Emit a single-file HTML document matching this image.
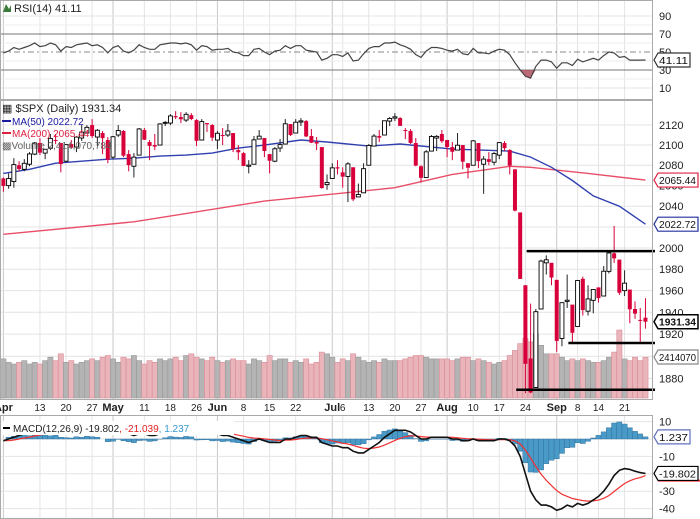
<!DOCTYPE html>
<html><head><meta charset="utf-8"><style>
html,body{margin:0;padding:0;background:#fff;}
svg{display:block;font-family:"Liberation Sans",Arial,sans-serif;}
</style></head><body>
<svg id="chart" width="700" height="519" viewBox="0 0 700 519" xmlns="http://www.w3.org/2000/svg">
<rect x="0" y="0" width="700" height="519" fill="#fff"/>
<g id="grid"></g>
<g id="volume"></g>
<g id="rsi"></g>
<g id="price"></g>
<g id="macd"></g>
<g id="axes"></g>
<g>
<path d="M3 12 L6 4 L9 9 L11 5 L11 12 Z" fill="#3a7a3a"/>
<text x="14" y="12" font-size="11" fill="#222">RSI(14) 41.11</text>
</g>
<g>
<text x="2" y="112" font-size="11" fill="#222">&#9638; $SPX (Daily) 1931.34</text>
<line x1="2" y1="121" x2="11" y2="121" stroke="#1a1aa0" stroke-width="2"/>
<text x="12" y="125" font-size="10" fill="#1a1aa0">MA(50) 2022.72</text>
<line x1="2" y1="133" x2="11" y2="133" stroke="#e02040" stroke-width="2"/>
<text x="12" y="137" font-size="10" fill="#e02040">MA(200) 2065.44</text>
<text x="2" y="149" font-size="10" fill="#666">&#9641;Volume 2,414,070,784</text>
</g>
<g>
<rect x="2" y="421" width="232" height="14" fill="#fff"/>
<line x1="3" y1="428" x2="10" y2="428" stroke="#000" stroke-width="2"/>
<text x="13" y="432" font-size="10" fill="#222">MACD(12,26,9) -19.802<tspan fill="#e02020">, -21.039</tspan><tspan fill="#3399cc">, 1.237</tspan></text>
</g>
</svg>
<script>
const dayLabels = [[0,"Apr",1],[7,"13",0],[12,"20",0],[17,"27",0],[21,"May",1],[27,"11",0],[32,"18",0],[37,"26",0],[41,"Jun",1],[46,"8",0],[51,"15",0],[56,"22",0],[63,"Jul",1],[65,"6",0],[70,"13",0],[75,"20",0],[80,"27",0],[85,"Aug",1],[90,"10",0],[95,"17",0],[100,"24",0],[106,"Sep",1],[110,"8",0],[114,"14",0],[119,"21",0]];
const openP = [2067,2060,2064,2080,2076,2081,2091,2102,2092,2097,2105,2102,2084,2101,2098,2107,2112,2120,2108,2112,2105,
2088,2110,2114,2091,2079,2090,2115,2103,2100,2100,2122,2122,2129,2128,2125,2130,2125,2105,2122,2120,
2105,2110,2110,2112,2095,2092,2079,2081,2106,2107,2091,2084,2097,2101,2121,2112,2123,2124,2109,2103,2098,2061,
2067,2078,2073,2069,2078,2049,2053,2080,2099,2109,2110,2124,2127,2127,2115,2114,2102,2079,2068,2094,2107,2111,
2105,2098,2095,2100,2082,2080,2102,2081,2086,2083,2090,2102,2095,2076,2034,1965,1898,1872,1943,1986,1986,
1970,1916,1950,1947,1927,1971,1941,1951,1963,1955,1978,1995,1989,1960,1961,1943,1933,1935];
const closeP = [2059.7,2066.96,2080.62,2076.33,2081.9,2091.18,2102.06,2092.43,2095.84,2106.63,2104.99,2081.18,2100.4,2097.29,2107.96,2112.93,2117.69,2108.92,2114.76,2106.85,2085.51,
2108.29,2114.49,2089.46,2080.15,2088,2116.1,2105.33,2099.12,2098.48,2121.1,2122.73,2129.2,2127.83,2125.85,2130.82,2126.06,2104.2,2123.48,2120.79,2107.39,
2111.73,2109.6,2114.07,2095.84,2092.83,2079.28,2080.15,2105.2,2108.86,2094.11,2084.43,2096.29,2100.44,2121.24,2109.99,2122.85,2124.2,2108.58,2102.31,2101.49,2057.64,2063.11,
2077.42,2076.78,2068.76,2081.34,2046.68,2051.31,2076.62,2099.6,2108.95,2107.4,2124.29,2126.64,2128.28,2119.21,2114.15,2102.15,2079.65,2067.64,2093.25,2108.57,2108.63,2103.84,
2098.04,2093.32,2099.84,2083.56,2077.57,2104.18,2084.07,2086.05,2083.39,2091.54,2102.44,2096.92,2079.61,2035.73,1970.89,1893.21,1867.61,1940.51,1987.66,1988.87,1972.18,
1913.85,1948.86,1951.13,1921.22,1969.41,1942.04,1952.29,1961.05,1953.03,1978.09,1995.31,1990.2,1958.03,1966.97,1942.74,1938.76,1932.24,1931.34];
const highP = [2068,2072,2087,2084,2086,2093,2103,2107,2096,2111,2111,2102,2101,2105,2109,2120,2120,2126,2116,2114,2108,
2109,2120,2115,2095,2092,2117,2117,2105,2111,2122,2124,2131,2134,2133,2133,2132,2126,2126,2122,2121,
2114,2117,2121,2112,2100,2093,2085,2109,2115,2107,2091,2098,2106,2126,2121,2126,2127,2125,2116,2108,2098,2071,
2082,2085,2078,2083,2078,2062,2082,2101,2111,2115,2124,2128,2132,2128,2117,2116,2107,2080,2095,2110,2110,2115,
2105,2103,2112,2100,2082,2105,2102,2089,2093,2093,2103,2104,2096,2076,2034,1965,1948,1943,1989,1993,1986,
1970,1948,1975,1947,1970,1973,1965,1961,1963,1983,1997,2021,1989,1979,1961,1950,1944,1953];
const lowP = [2054,2057,2058,2074,2074,2079,2090,2090,2086,2095,2101,2073,2083,2096,2093,2104,2112,2107,2099,2091,2082,
2086,2108,2088,2074,2068,2090,2105,2085,2095,2100,2119,2120,2126,2122,2123,2125,2099,2105,2113,2104,
2096,2100,2108,2093,2085,2079,2072,2081,2106,2088,2072,2083,2093,2101,2109,2112,2119,2108,2102,2095,2057,2056,
2067,2071,2058,2044,2045,2049,2053,2080,2099,2103,2110,2119,2124,2119,2106,2101,2079,2063,2068,2094,2094,2102,
2088,2085,2095,2076,2067,2080,2077,2052,2080,2080,2086,2094,2071,2035,1971,1867,1867,1872,1943,1975,1965,
1904,1909,1944,1911,1927,1937,1937,1939,1949,1955,1976,1986,1956,1955,1930,1934,1913,1925];
const volB = [2.3,2.1,2.0,2.1,2.2,2.0,2.1,2.0,2.2,2.4,2.2,2.6,2.1,2.2,2.0,2.1,2.2,2.3,2.2,2.4,2.5,
2.3,2.1,2.4,2.3,2.5,2.2,2.0,2.2,2.1,2.3,2.2,2.3,2.4,2.2,2.5,2.6,2.4,2.3,2.2,2.4,
2.2,2.1,2.2,2.3,2.2,2.2,2.0,2.3,2.2,2.1,2.5,2.2,2.3,2.3,2.1,2.2,2.1,2.3,2.0,2.1,2.7,2.6,
2.4,2.1,2.3,2.2,2.6,2.4,2.2,2.1,2.2,2.1,2.3,2.2,2.2,2.2,2.3,2.4,2.5,2.5,2.4,2.3,2.3,2.3,
2.3,2.2,2.3,2.4,2.4,2.2,2.3,2.2,2.1,2.0,2.1,2.2,2.5,2.8,3.2,3.5,3.3,3.8,3.1,2.6,2.6,
2.6,2.4,2.2,2.3,2.2,2.3,2.2,2.1,2.1,2.2,2.4,2.7,4.0,2.3,2.2,2.4,2.2,2.4];
const rsiV = [49,51,55,53,55,57,60,56,57,60,58,51,56,55,58,59,60,57,58,55,49,
55,57,51,49,52,58,55,53,53,58,59,60,60,59,60,58,52,57,56,52,
53,53,54,50,49,46,46,53,54,50,47,51,52,57,54,57,57,52,51,50,41,43,
47,47,45,49,40,41,48,54,56,56,60,60,61,58,56,53,47,44,51,55,55,54,
52,51,53,48,47,54,49,49,48,51,53,52,47,38,30,23,21,34,41,41,39,
32,38,38,35,42,39,41,43,41,46,50,49,44,45,41,41,41,41.11];
const macdV = [-1,0,1,2,3,3,4,5,5,5,6,5,5,5,6,6,7,7,7,6,4,
4,5,4,3,2,3,3,2,2,3,4,5,5,5,6,6,4,4,4,3,
3,2,2,1,0,-1,-2,-1,0,-1,-2,-2,-2,0,0,1,2,2,1,1,-2,-3,
-4,-4,-5,-5,-7,-8,-8,-6,-4,-2,1,3,5,5,5,4,2,0,0,1,1,1,
1,0,0,-1,-1,0,-1,-1,-1,-1,0,0,-1,-4,-10,-20,-30,-35,-38,-38,-39,
-41,-40,-38,-39,-37,-38,-37,-35,-33,-30,-26,-21,-18,-17,-17.5,-18.5,-19.3,-19.802];
const signalV = [-1,-1,-0.6,0,0.6,1.1,1.7,2.3,2.8,3.2,3.8,4,4.2,4.4,4.7,5,5.4,5.7,6,6,5.6,
5.3,5.2,5,4.6,4.1,3.9,3.7,3.4,3.1,3.1,3.3,3.6,3.9,4.1,4.5,4.8,4.6,4.5,4.4,4.1,
3.9,3.5,3.2,2.8,2.2,1.6,0.9,0.5,0.4,0.1,-0.3,-0.6,-0.9,-0.7,-0.6,-0.3,0.2,0.5,0.6,0.7,0.2,-0.4,
-1.1,-1.7,-2.4,-2.9,-3.7,-4.6,-5.3,-5.5,-5.2,-4.6,-3.5,-2.2,-0.8,0.4,1.3,1.8,1.8,1.4,1.1,1.1,1.1,1.1,
1.1,0.9,0.7,0.4,0.1,0.1,-0.1,-0.3,-0.4,-0.5,-0.4,-0.3,-0.4,-1.1,-2.9,-6.3,-11,-15.8,-20.2,-23.8,-26.8,
-29.6,-31.7,-33,-34.2,-34.8,-35.4,-35.7,-35.6,-35.1,-34.1,-32.5,-30.2,-27.8,-25.6,-24,-22.9,-22.2,-21.039];
const ma50Idx = [0,5,10,15,20,25,30,35,40,45,50,57,62,70,76,86,97,101,105,109,113,118,123];
const ma50Val = [2072,2076,2082,2084,2086,2087,2089,2090,2092,2097,2100,2105,2103,2099,2101,2096,2094,2088,2078,2065,2050,2040,2022.72];
const ma200Idx = [0,25,50,75,86,97,101,112,123];
const ma200Val = [2013,2025,2045,2058,2071,2079,2078,2072,2065.44];
const priceTicks = [2120,2100,2080,2060,2040,2020,2000,1980,1960,1940,1920,1900,1880];
const priceTickShown = [2120,2100,2080,2060,2040,2000,1980,1960,1940,1920,1880];
const rsiTicks = [90,70,50,30,10];
const macdTicks = [10,-10,-30,-40];
const macdGrid = [10,0,-10,-20,-30,-40];
const levelLines = [[1997,101,123],[1912,109,123],[1870,99,123]];

const NS="http://www.w3.org/2000/svg";
const R=653;
function X(i){return 3.4+i*5.22;}
function PY(v){return 248+2110*Math.log(2000/v);}
function RY(v){return 52-(v-50)*0.9;}
function MY(v){return 439-v*1.74;}
function VY(v){return 398-v*17;}
function mk(p,tag,a){const e=document.createElementNS(NS,tag);for(const k in a)e.setAttribute(k,a[k]);p.appendChild(e);return e;}
const grid=document.getElementById('grid'),vol=document.getElementById('volume'),rsi=document.getElementById('rsi'),price=document.getElementById('price'),macd=document.getElementById('macd'),axes=document.getElementById('axes');

dayLabels.forEach(d=>{
  const x=X(d[0]);
  [[0,100],[100,400],[415,519]].forEach(s=>{
    const l=mk(grid,'line',{x1:x,x2:x,y1:s[0],y2:s[1],stroke:d[2]?'#c8c8c8':'#e4e4e4','stroke-width':1});
    
    
  });
  const t=mk(axes,'text',{x:x,y:411,'font-size':d[2]?11:10,'font-weight':d[2]?'bold':'normal','text-anchor':'middle',fill:'#222'});
  t.textContent=d[1];
  
  
});
priceTicks.forEach(v=>{
  const l=mk(grid,'line',{x1:0,x2:R,y1:PY(v),y2:PY(v),stroke:'#e4e4e4'});
  
  
});
priceTickShown.forEach(v=>{
  const t=mk(axes,'text',{x:659,y:PY(v)+4,'font-size':11,fill:'#222'});t.textContent=v;
  
  
});
rsiTicks.forEach(v=>{
  const main=(v===70||v===30);
  const l=mk(grid,'line',{x1:0,x2:R,y1:RY(v),y2:RY(v),stroke:main?'#777':(v===50?'#888':'#e4e4e4'),'stroke-dasharray':v===50?'6,3,2,3':'none'});
  
  
  const t=mk(axes,'text',{x:659,y:RY(v)+4,'font-size':11,fill:'#222'});t.textContent=v;
  
  
});
[60,40,20,80].forEach(v=>{mk(grid,'line',{x1:0,x2:R,y1:RY(v),y2:RY(v),stroke:'#eee'});});
macdGrid.forEach(v=>{
  const l=mk(grid,'line',{x1:0,x2:R,y1:MY(v),y2:MY(v),stroke:'#e4e4e4'});
  
  
});
macdTicks.forEach(v=>{
  const t=mk(axes,'text',{x:659,y:MY(v)+4,'font-size':11,fill:'#222'});t.textContent=v;
  
  
});
[[0,0,R,100],[0,100,R,300],[0,415,R,104]].forEach(f=>{
  const r=mk(axes,'rect',{x:f[0]+0.5,y:f[1]+0.5,width:f[2]-1,height:f[3]-1,fill:'none',stroke:'#aaa'});
  
  
});

volB.forEach((v,i)=>{
  const down=i>0&&closeP[i]<closeP[i-1];
  const b=mk(vol,'rect',{x:X(i)-2.6,y:VY(v),width:5.2,height:398-VY(v),fill:down?'#eab4bb':'#b4b4b4',stroke:down?'#d88c97':'#999','stroke-width':0.6});
  
  
});

function maPath(idx,val){return idx.map((k,j)=>(j?'L':'M')+X(k).toFixed(1)+' '+PY(val[j]).toFixed(1)).join(' ');}
const m200=mk(price,'path',{d:maPath(ma200Idx,ma200Val),fill:'none',stroke:'#e8506a','stroke-width':1.4});


const m50=mk(price,'path',{d:maPath(ma50Idx,ma50Val),fill:'none',stroke:'#3040b0','stroke-width':1.4});



closeP.forEach((c,i)=>{
  const o=openP[i],x=X(i);
  const up=c>=o;
  const col=up?'#000':'#d8003a';
  const w=mk(price,'line',{x1:x,x2:x,y1:PY(highP[i]),y2:PY(lowP[i]),stroke:up?'#222':'#d8003a','stroke-width':1});
  
  
  const top=PY(Math.max(o,c)),bot=PY(Math.min(o,c));
  const b=mk(price,'rect',{x:x-2,y:top,width:4,height:Math.max(1,bot-top),fill:up?'#fff':'#d8003a',stroke:col,'stroke-width':up?0.9:0});
  
  
});
levelLines.forEach(l=>{
  const e=mk(price,'line',{x1:X(l[1])-4,x2:R+2,y1:PY(l[0]),y2:PY(l[0]),stroke:'#000','stroke-width':2.5});
  
  
});

let rp=rsiV.map((v,i)=>(i?'L':'M')+X(i).toFixed(1)+' '+RY(v).toFixed(1)).join(' ');
const ov=[];rsiV.forEach((v,i)=>{if(v<30)ov.push(i);});
if(ov.length){
  const a=ov[0]-1,b=ov[ov.length-1]+1;
  let d='M'+X(a)+' '+RY(30);
  for(let i=a;i<=b;i++)d+=' L'+X(i)+' '+RY(Math.min(30,rsiV[i]));
  d+=' L'+X(b)+' '+RY(30)+'Z';
  const f=mk(rsi,'path',{d:d,fill:'#b05060',opacity:0.85});
  
  
}
const rl=mk(rsi,'path',{d:rp,fill:'none',stroke:'#444','stroke-width':1.2});



macdV.forEach((v,i)=>{
  const h=v-signalV[i];
  const y0=MY(0),y1=MY(h);
  const r=mk(macd,'rect',{x:X(i)-2.6,y:Math.min(y0,y1),width:5.2,height:Math.abs(y1-y0),fill:'#4a9ac8',stroke:'#2a6a98','stroke-width':0.4});
  
  
});
const sg=mk(macd,'path',{d:signalV.map((v,i)=>(i?'L':'M')+X(i).toFixed(1)+' '+MY(v).toFixed(1)).join(' '),fill:'none',stroke:'#f03030','stroke-width':1.2});


const ml=mk(macd,'path',{d:macdV.map((v,i)=>(i?'L':'M')+X(i).toFixed(1)+' '+MY(v).toFixed(1)).join(' '),fill:'none',stroke:'#111','stroke-width':1.6});



function tag(y,txt,col,bold,name){
  const g=mk(axes,'g',{});
  
  
  const w=Math.min(40,txt.length*5.6+4);
  mk(g,'path',{d:`M${R+1} ${y} L${R+5} ${y-7} L${R+5+w} ${y-7} L${R+5+w} ${y+7} L${R+5} ${y+7} Z`,fill:'#fff',stroke:col,'stroke-width':bold?1.5:1.2});
  const t=mk(g,'text',{x:R+6,y:y+4,'font-size':10.5,fill:'#111','font-weight':bold?'bold':'normal','textLength':w-3,'lengthAdjust':'spacingAndGlyphs'});t.textContent=txt;
}
tag(PY(2065.44),'2065.44','#e02040',false,'ma200-value-tag');
tag(PY(2022.72),'2022.72','#2030a0',false,'ma50-value-tag');
tag(PY(1931.34),'1931.34','#000',true,'last-price-tag');
tag(VY(2.41),'2414070','#888',false,'volume-value-tag');
tag(RY(41.11),'41.11','#333',false,'rsi-value-tag');
tag(MY(1.237),'1.237','#6070c0',false,'macd-hist-value-tag');
const sgl=mk(axes,'line',{x1:R+5,x2:700,y1:MY(-21.039)+5,y2:MY(-21.039)+5,stroke:'#f03030','stroke-width':2});


tag(MY(-19.802),'-19.802','#000',false,'macd-value-tag');
</script>
</body></html>
